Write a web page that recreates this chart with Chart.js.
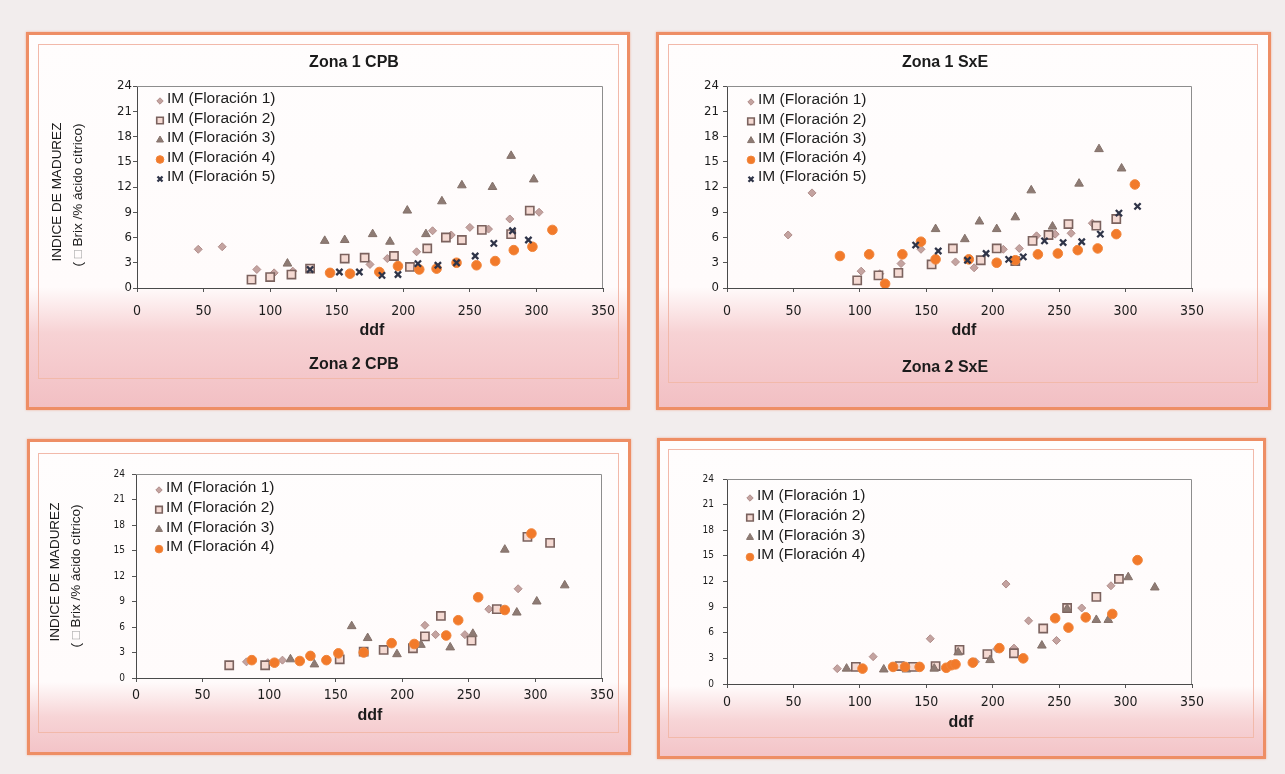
<!DOCTYPE html>
<html>
<head>
<meta charset="utf-8">
<title>Índice de madurez por zona</title>
<script src="https://cdn.jsdelivr.net/npm/chart.js@4.4.1/dist/chart.umd.min.js"></script>
<style>
  html, body { margin: 0; padding: 0; }
  body {
    width: 1285px; height: 774px; position: relative; overflow: hidden;
    background: #f2eded;
    font-family: "Liberation Sans", Arial, Helvetica, sans-serif;
  }
  .panel {
    position: absolute; box-sizing: border-box;
    border: 3px solid #ee8e65;
    box-shadow: 0 0 2px rgba(236,130,90,0.6);
  }
  .frame-in {
    position: absolute; box-sizing: border-box;
    border: 1px solid #f2b9aa;
  }
  canvas { position: absolute; left: 0; top: 0; }
  .txt { position: absolute; white-space: nowrap; color: #1b1b1b; transform: translate(-50%, -50%); }
  .title { font-weight: bold; font-size: 16px; }
  .xcap { font-weight: bold; font-size: 16px; }
  .ycap { font-size: 13.5px; transform: translate(-50%, -50%) rotate(-90deg); }
  .box { color: #9a9a9a; }
</style>
</head>
<body>

<!-- panel frames -->
<div class="panel" style="left:26px;top:32px;width:604px;height:378px;
  background:linear-gradient(to bottom,#fffdfd 0px,#fffbfb 252px,#f7d2d4 298px,#f2bfc3 374px);"></div>
<div class="frame-in" style="left:38px;top:44px;width:581px;height:335px;"></div>

<div class="panel" style="left:656px;top:32px;width:615px;height:378px;
  background:linear-gradient(to bottom,#fffdfd 0px,#fffbfb 252px,#f7d2d4 298px,#f2bfc3 374px);"></div>
<div class="frame-in" style="left:668px;top:44px;width:590px;height:339px;"></div>

<div class="panel" style="left:27px;top:439px;width:604px;height:316px;
  background:linear-gradient(to bottom,#fffdfd 0px,#fffbfb 240px,#f7d4d6 275px,#f3c3c7 312px);"></div>
<div class="frame-in" style="left:38px;top:453px;width:581px;height:280px;"></div>

<div class="panel" style="left:657px;top:438px;width:609px;height:321px;
  background:linear-gradient(to bottom,#fffdfd 0px,#fffbfb 245px,#f7d4d6 280px,#f3c3c7 317px);"></div>
<div class="frame-in" style="left:668px;top:449px;width:586px;height:289px;"></div>

<canvas id="chartZ1CPB" width="1285" height="774"></canvas>
<canvas id="chartZ1SxE" width="1285" height="774"></canvas>
<canvas id="chartZ2CPB" width="1285" height="774"></canvas>
<canvas id="chartZ2SxE" width="1285" height="774"></canvas>

<!-- titles and axis captions -->
<div class="txt title" style="left:354px;top:62px;">Zona 1 CPB</div>
<div class="txt title" style="left:945px;top:62px;">Zona 1 SxE</div>
<div class="txt title" style="left:354px;top:364px;">Zona 2 CPB</div>
<div class="txt title" style="left:945px;top:367px;">Zona 2 SxE</div>

<div class="txt xcap" style="left:372px;top:330px;">ddf</div>
<div class="txt xcap" style="left:964px;top:330px;">ddf</div>
<div class="txt xcap" style="left:370px;top:715px;">ddf</div>
<div class="txt xcap" style="left:961px;top:722px;">ddf</div>

<div class="txt ycap" style="left:56px;top:192px;">INDICE DE MADUREZ</div>
<div class="txt ycap" style="left:77px;top:195px;">( <span class="box">□</span> Brix /% ácido cítrico)</div>
<div class="txt ycap" style="left:54px;top:572px;">INDICE DE MADUREZ</div>
<div class="txt ycap" style="left:75px;top:576px;">( <span class="box">□</span> Brix /% ácido cítrico)</div>

<script>
// ---- data: days after flowering (ddf) and maturity index (IM) per flowering ----
const seriesNames = ['IM (Floración 1)', 'IM (Floración 2)', 'IM (Floración 3)', 'IM (Floración 4)', 'IM (Floración 5)'];
const xTicks = [0, 50, 100, 150, 200, 250, 300, 350];
const yTicks = [0, 3, 6, 9, 12, 15, 18, 21, 24];

// Zona 1 CPB
const z1cpbDdf1 = [46, 64, 90, 103, 117, 175, 188, 210, 222, 236, 250, 264, 280, 302];
const z1cpbIm1  = [4.6, 4.9, 2.2, 1.8, 2.0, 2.8, 3.5, 4.3, 6.8, 6.3, 7.2, 7.0, 8.2, 9.0];
const z1cpbDdf2 = [86, 100, 116, 130, 156, 171, 193, 205, 218, 232, 244, 259, 281, 295];
const z1cpbIm2  = [1.0, 1.3, 1.6, 2.3, 3.5, 3.6, 3.8, 2.5, 4.7, 6.0, 5.7, 6.9, 6.4, 9.2];
const z1cpbDdf3 = [113, 141, 156, 177, 190, 203, 217, 229, 244, 267, 281, 298];
const z1cpbIm3  = [2.9, 5.6, 5.7, 6.4, 5.5, 9.2, 6.4, 10.3, 12.2, 12.0, 15.7, 12.9];
const z1cpbDdf4 = [145, 160, 182, 196, 212, 225, 240, 255, 269, 283, 297, 312];
const z1cpbIm4  = [1.8, 1.7, 1.9, 2.6, 2.2, 2.3, 3.0, 2.7, 3.2, 4.5, 4.9, 6.9];
const z1cpbDdf5 = [130, 152, 167, 184, 196, 211, 226, 240, 254, 268, 282, 294];
const z1cpbIm5  = [2.2, 1.9, 1.9, 1.5, 1.6, 2.9, 2.7, 3.0, 3.8, 5.3, 6.8, 5.7];

// Zona 1 SxE
const z1sxeDdf1 = [46, 64, 101, 115, 131, 146, 172, 186, 208, 220, 233, 247, 259, 275];
const z1sxeIm1  = [6.3, 11.3, 2.0, 1.7, 2.9, 4.6, 3.1, 2.4, 4.6, 4.7, 6.2, 6.4, 6.5, 7.7];
const z1sxeDdf2 = [98, 114, 129, 154, 170, 191, 203, 217, 230, 242, 257, 278, 293];
const z1sxeIm2  = [0.9, 1.5, 1.8, 2.8, 4.7, 3.3, 4.7, 3.2, 5.6, 6.3, 7.6, 7.4, 8.2];
const z1sxeDdf3 = [157, 179, 190, 203, 217, 229, 245, 265, 280, 297];
const z1sxeIm3  = [7.0, 5.8, 7.9, 7.0, 8.4, 11.6, 7.3, 12.4, 16.5, 14.2];
const z1sxeDdf4 = [85, 107, 119, 132, 146, 157, 182, 203, 217, 234, 249, 264, 279, 293, 307];
const z1sxeIm4  = [3.8, 4.0, 0.5, 4.0, 5.5, 3.4, 3.4, 3.0, 3.3, 4.0, 4.1, 4.5, 4.7, 6.4, 12.3];
const z1sxeDdf5 = [142, 159, 181, 195, 212, 223, 239, 253, 267, 281, 295, 309];
const z1sxeIm5  = [5.1, 4.4, 3.3, 4.1, 3.4, 3.7, 5.6, 5.4, 5.5, 6.4, 8.9, 9.7];

// Zona 2 CPB
const z2cpbDdf1 = [83, 99, 110, 217, 225, 247, 265, 287];
const z2cpbIm1  = [1.9, 1.8, 2.1, 6.2, 5.1, 5.1, 8.1, 10.5];
const z2cpbDdf2 = [70, 97, 153, 171, 186, 208, 217, 229, 252, 271, 294, 311];
const z2cpbIm2  = [1.5, 1.5, 2.2, 3.1, 3.3, 3.5, 4.9, 7.3, 4.4, 8.1, 16.6, 15.9];
const z2cpbDdf3 = [116, 134, 162, 174, 196, 214, 236, 253, 277, 286, 301, 322];
const z2cpbIm3  = [2.2, 1.6, 6.1, 4.7, 2.8, 3.9, 3.6, 5.2, 15.1, 7.7, 9.0, 10.9];
const z2cpbDdf4 = [87, 104, 123, 131, 143, 152, 171, 192, 209, 233, 242, 257, 277, 297];
const z2cpbIm4  = [2.1, 1.8, 2.0, 2.6, 2.1, 2.9, 3.0, 4.1, 4.0, 5.0, 6.8, 9.5, 8.0, 17.0];

// Zona 2 SxE
const z2sxeDdf1 = [83, 110, 153, 187, 203, 210, 216, 227, 248, 267, 289];
const z2sxeIm1  = [1.8, 3.2, 5.3, 2.6, 4.1, 11.7, 4.2, 7.4, 5.1, 8.9, 11.5];
const z2sxeDdf2 = [97, 130, 140, 157, 175, 196, 216, 238, 256, 278, 295];
const z2sxeIm2  = [2.0, 2.1, 2.0, 2.1, 4.0, 3.5, 3.6, 6.5, 8.9, 10.2, 12.3];
const z2sxeDdf3 = [90, 118, 135, 156, 174, 198, 237, 256, 278, 287, 302, 322];
const z2sxeIm3  = [1.8, 1.7, 1.7, 1.8, 3.7, 2.8, 4.5, 8.8, 7.5, 7.5, 12.5, 11.3];
const z2sxeDdf4 = [102, 125, 134, 145, 165, 169, 172, 185, 205, 223, 247, 257, 270, 290, 309];
const z2sxeIm4  = [1.8, 2.0, 2.0, 2.0, 1.9, 2.2, 2.3, 2.5, 4.2, 3.0, 7.7, 6.6, 7.8, 8.2, 14.5];

// ---- marker appearance for each flowering ----
const markerStyles = [
  { pointStyle: 'rectRot',  radius: 4.0, bg: '#c4a3a0', border: '#b08d8a', width: 1 },
  { pointStyle: 'rect',     radius: 5.8, bg: '#f5dad3', border: '#7b625e', width: 1.6 },
  { pointStyle: 'triangle', radius: 5.0, bg: '#8e7b74', border: '#84716a', width: 1 },
  { pointStyle: 'circle',   radius: 4.8, bg: '#f27a2a', border: '#f0853c', width: 1 },
  { pointStyle: 'crossRot', radius: 4.4, bg: '#2f3448', border: '#2f3448', width: 2.3 }
];

const NARROW = '"Liberation Sans Narrow", "DejaVu Sans Condensed", "Arial Narrow", sans-serif';
const SANS = '"Liberation Sans", Arial, Helvetica, sans-serif';

function toPoints(xs, ys) {
  return xs.map((x, i) => ({ x: x, y: ys[i] }));
}

function buildDatasets(series) {
  return series.map((s, i) => {
    const m = markerStyles[i];
    return {
      label: seriesNames[i],
      data: toPoints(s[0], s[1]),
      showLine: false,
      pointStyle: m.pointStyle,
      pointRadius: m.radius,
      pointBackgroundColor: m.bg,
      pointBorderColor: m.border,
      pointBorderWidth: m.width,
      backgroundColor: m.bg,
      borderColor: m.border,
      borderWidth: m.width,
      order: 10 - i
    };
  });
}

// legend drawn inside the plot, top-left, with the datasets' own markers
const insideLegend = {
  id: 'insideLegend',
  afterDatasetsDraw(chart, args, opts) {
    const ctx = chart.ctx, area = chart.chartArea;
    ctx.save();
    chart.data.datasets.forEach((ds, i) => {
      const y = area.top + opts.top + i * opts.spacing;
      const tx = area.left + opts.left;
      ctx.fillStyle = ds.pointBackgroundColor;
      ctx.strokeStyle = ds.pointBorderColor;
      ctx.lineWidth = ds.pointBorderWidth;
      Chart.helpers.drawPoint(ctx, {
        pointStyle: ds.pointStyle,
        radius: ds.pointRadius * 0.8,
        borderWidth: ds.pointBorderWidth,
        rotation: 0
      }, tx - 7, y + 2);
      ctx.fillStyle = '#1d1d1d';
      ctx.font = '15.5px ' + SANS;
      ctx.textBaseline = 'middle';
      ctx.textAlign = 'left';
      ctx.fillText(ds.label, tx, y);
    });
    ctx.restore();
  }
};

// thin grey lines closing the plot box on top and right
const plotFrame = {
  id: 'plotFrame',
  beforeDatasetsDraw(chart) {
    const ctx = chart.ctx, a = chart.chartArea;
    ctx.save();
    ctx.strokeStyle = '#8d8d8d';
    ctx.lineWidth = 1;
    ctx.beginPath();
    ctx.moveTo(a.left, a.top + 0.5);
    ctx.lineTo(a.right - 0.5, a.top + 0.5);
    ctx.lineTo(a.right - 0.5, a.bottom);
    ctx.stroke();
    ctx.restore();
  }
};

function makeChart(id, series, area, cfg) {
  const W = 1285, H = 774, yBand = 40, xBand = 40;
  return new Chart(document.getElementById(id), {
    type: 'scatter',
    data: { datasets: buildDatasets(series) },
    options: {
      responsive: false,
      animation: false,
      devicePixelRatio: 1,
      events: [],
      layout: {
        padding: { left: area.l - yBand, top: area.t, right: W - area.r, bottom: H - area.b - xBand }
      },
      plugins: {
        legend: { display: false },
        tooltip: { enabled: false },
        insideLegend: { left: cfg.legLeft, top: cfg.legTop, spacing: cfg.legSpacing }
      },
      scales: {
        x: {
          type: 'linear',
          min: xTicks[0], max: xTicks[xTicks.length - 1],
          afterBuildTicks(scale) { scale.ticks = xTicks.map(v => ({ value: v })); },
          afterFit(scale) { scale.height = xBand; },
          ticks: { font: { family: NARROW, size: 14 }, color: '#1c1c1c', padding: cfg.xPad, maxRotation: 0, autoSkip: false },
          grid: { drawOnChartArea: false, drawTicks: true, tickLength: 4, color: '#555', tickColor: '#555' },
          border: { display: true, color: '#4a4a4a', width: 1 }
        },
        y: {
          type: 'linear',
          min: yTicks[0], max: yTicks[yTicks.length - 1],
          afterBuildTicks(scale) { scale.ticks = yTicks.map(v => ({ value: v })); },
          afterFit(scale) { scale.width = yBand; },
          ticks: { font: { family: NARROW, size: cfg.yFont }, color: '#1c1c1c', padding: cfg.yPad, autoSkip: false },
          grid: { drawOnChartArea: false, drawTicks: true, tickLength: 4, color: '#555', tickColor: '#555' },
          border: { display: true, color: '#4a4a4a', width: 1 }
        }
      }
    },
    plugins: [plotFrame, insideLegend]
  });
}

makeChart('chartZ1CPB',
  [[z1cpbDdf1, z1cpbIm1], [z1cpbDdf2, z1cpbIm2], [z1cpbDdf3, z1cpbIm3], [z1cpbDdf4, z1cpbIm4], [z1cpbDdf5, z1cpbIm5]],
  { l: 137, t: 86, r: 603, b: 288 },
  { yFont: 13, yPad: 1, xPad: 11, legLeft: 30, legTop: 13, legSpacing: 19.5 });

makeChart('chartZ1SxE',
  [[z1sxeDdf1, z1sxeIm1], [z1sxeDdf2, z1sxeIm2], [z1sxeDdf3, z1sxeIm3], [z1sxeDdf4, z1sxeIm4], [z1sxeDdf5, z1sxeIm5]],
  { l: 727, t: 86, r: 1192, b: 288 },
  { yFont: 13, yPad: 4, xPad: 11, legLeft: 31, legTop: 14, legSpacing: 19.3 });

makeChart('chartZ2CPB',
  [[z2cpbDdf1, z2cpbIm1], [z2cpbDdf2, z2cpbIm2], [z2cpbDdf3, z2cpbIm3], [z2cpbDdf4, z2cpbIm4]],
  { l: 136, t: 474, r: 602, b: 678 },
  { yFont: 10, yPad: 7, xPad: 5, legLeft: 30, legTop: 14, legSpacing: 19.7 });

makeChart('chartZ2SxE',
  [[z2sxeDdf1, z2sxeIm1], [z2sxeDdf2, z2sxeIm2], [z2sxeDdf3, z2sxeIm3], [z2sxeDdf4, z2sxeIm4]],
  { l: 727, t: 479, r: 1192, b: 684 },
  { yFont: 10, yPad: 9, xPad: 6, legLeft: 30, legTop: 17, legSpacing: 19.7 });
</script>
</body>
</html>
